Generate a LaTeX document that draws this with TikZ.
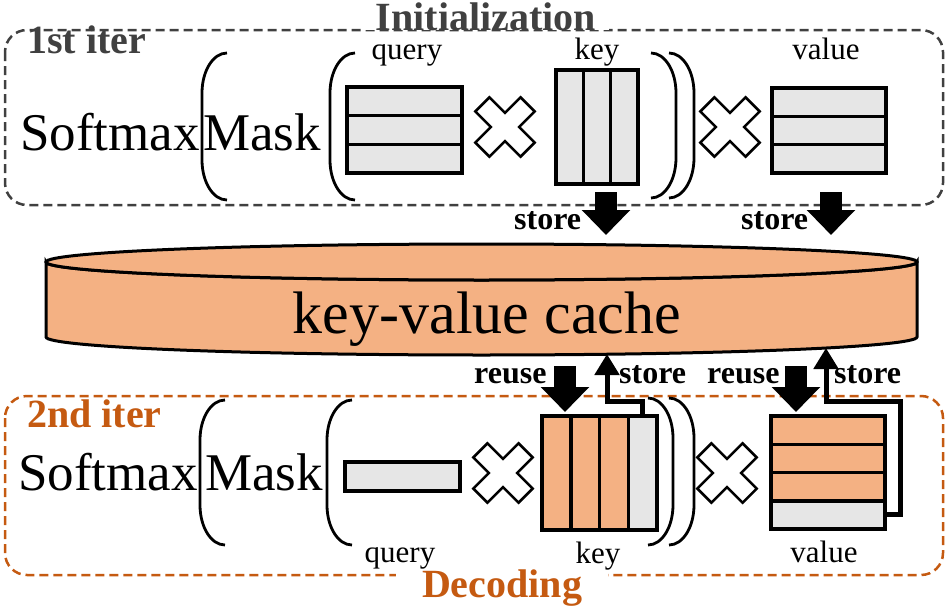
\documentclass[tikz,border=0pt]{standalone}
\usepackage{fontspec}
\setmainfont{Liberation Serif}
\usetikzlibrary{arrows.meta}

\definecolor{cacheorange}{HTML}{F4B183}
\definecolor{cellgray}{HTML}{E6E6E6}
\definecolor{decodeorange}{HTML}{C55A11}
\definecolor{initgray}{HTML}{404040}

\begin{document}
\begin{tikzpicture}[x=1pt, y=-1pt,
    bigword/.style = {font=\fontsize{53}{53}\selectfont, anchor=base west, inner sep=0pt},
    itertitle/.style = {font=\fontsize{40}{40}\selectfont\bfseries, anchor=base west, inner sep=0pt},
    boxtitle/.style = {font=\fontsize{40}{40}\selectfont\bfseries, anchor=base, fill=white, inner ysep=0pt},
    veclbl/.style = {font=\fontsize{31}{31}\selectfont, anchor=base, inner sep=0pt},
    oplbl/.style = {font=\fontsize{32}{32}\selectfont\bfseries, anchor=base west, inner sep=0pt},
    cell/.style = {draw, line width=3.5, fill=cellgray, inner sep=0pt, outer sep=0pt},
    paren/.style = {line width=2.8},
    timesx/.style = {draw, fill=white, line width=2.5, line join=miter},
    phasebox/.style = {line width=2.5, dash pattern=on 9pt off 5pt, rounded corners=22},
    fatarrow/.style = {line width=22, -{Triangle[width=47pt, length=25pt]}},
    thinarrow/.style = {line width=5, -{Triangle[width=24pt, length=21pt]}},
    cache/.style = {draw, fill=cacheorange, line width=3}]

    \useasboundingbox (0,0) rectangle (948,613);

    % phase boxes
    \draw[phasebox, initgray] (5,30) rectangle (943,205);
    \draw[phasebox, decodeorange] (5,396) rectangle (943,575);
    \node[boxtitle, text=initgray, inner xsep=13pt] (init) at (486,30) {Initialization};
    \node[boxtitle, text=decodeorange, inner xsep=26pt] (decode) at (502,597) {Decoding};
    \node[itertitle, text=initgray] (iterA) at (27,53) {1st iter};
    \node[itertitle, text=decodeorange] (iterB) at (27,427) {2nd iter};

    % key-value cache
    \filldraw[cache] (46,262) -- (46,337) arc[start angle=180, end angle=0, x radius=435.5, y radius=18]
        -- (917,262) arc[start angle=0, end angle=180, x radius=435.5, y radius=18] -- cycle;
    \filldraw[cache] (481.5,262) ellipse[x radius=435.5, y radius=18];
    \node[font=\fontsize{60}{60}\selectfont, anchor=base, inner sep=0pt] (cache) at (487,333) {key-value cache};

    % 1st iter
    \node[bigword] (smA) at (20,150) {Softmax};
    \node[bigword] (mkA) at (203,150) {Mask};
    \foreach \i in {0,1,2}
        \node[cell, minimum width=115, minimum height=28.67] (qA\i) at (404.5,{101.33+28.67*\i}) {};
    \foreach \i in {0,1,2}
        \node[cell, minimum width=27.33, minimum height=114] (kA\i) at ({569.67+27.33*\i},127) {};
    \foreach \i in {0,1,2}
        \node[cell, minimum width=114, minimum height=28.33] (vA\i) at (829,{102.17+28.33*\i}) {};
    \node[veclbl] (qlA) at (407,59) {query};
    \node[veclbl] (klA) at (597,59) {key};
    \node[veclbl] (vlA) at (826,59) {value};

    % 2nd iter
    \node[bigword] (smB) at (18,490) {Softmax};
    \node[bigword] (mkB) at (205,490) {Mask};
    \node[cell, minimum width=115, minimum height=29] (qB) at (402.5,476.5) {};
    \foreach \i/\c in {0/cacheorange, 1/cacheorange, 2/cacheorange, 3/cellgray}
        \node[cell, fill=\c, minimum width=28.75, minimum height=114] (kB\i) at ({556.375+28.75*\i},473) {};
    \foreach \i/\c in {0/cacheorange, 1/cacheorange, 2/cacheorange, 3/cellgray}
        \node[cell, fill=\c, minimum width=114, minimum height=28.25] (vB\i) at (828,{430.125+28.25*\i}) {};
    \node[veclbl] (qlB) at (400,562) {query};
    \node[veclbl] (klB) at (598,563) {key};
    \node[veclbl] (vlB) at (824,562) {value};

    % brackets
    \foreach \a/\t/\b in {202/53/200, 330/53/200, 200/400/545, 327/400/545}
        \draw[paren] ({\a+25},\t) .. controls ({\a+11},\t) and (\a,{\t+18}) .. (\a,{\t+40})
            -- (\a,{\b-40}) .. controls (\a,{\b-18}) and ({\a+11},\b) .. ({\a+25},\b);
    \foreach \c/\t/\b in {676/53/198, 694/53/198, 673/398/545, 694/398/545}
        \draw[paren] ({\c-25},\t) .. controls ({\c-11},\t) and (\c,{\t+18}) .. (\c,{\t+40})
            -- (\c,{\b-40}) .. controls (\c,{\b-18}) and ({\c-11},\b) .. ({\c-25},\b);

    % times signs
    \foreach \cx/\cy in {505/127, 730/127, 503/473, 727/473}
        \draw[timesx, shift={(\cx,\cy)}, rotate=45] (10,10) -- (10,32) -- (-10,32) -- (-10,10)
            -- (-32,10) -- (-32,-10) -- (-10,-10) -- (-10,-32) -- (10,-32) -- (10,-10)
            -- (32,-10) -- (32,10) -- cycle;

    % store / reuse
    \coordinate (kOut) at (606,192);
    \coordinate (kIn) at (606,235);
    \coordinate (vOut) at (831,192);
    \coordinate (vIn) at (831,235);
    \draw[fatarrow] (kOut) -- (kIn);
    \draw[fatarrow] (vOut) -- (vIn);
    \node[oplbl] (stA) at (514,229) {store};
    \node[oplbl] (stB) at (741,229) {store};

    \coordinate (kReuse) at (565,366);
    \coordinate (kHit) at (565,412);
    \coordinate (vReuse) at (796,366);
    \coordinate (vHit) at (796,412);
    \draw[fatarrow] (kReuse) -- (kHit);
    \draw[fatarrow] (vReuse) -- (vHit);
    \coordinate (kTurn) at (607,401);
    \coordinate (vTurn) at (900,401);
    \coordinate (cacheK) at (607,354);
    \coordinate (cacheV) at (826,348);
    \draw[thinarrow] (kB3.north) |- (kTurn) -- (cacheK);
    \draw[thinarrow] (vB3.east) -| (vTurn) -| (cacheV);
    \node[oplbl] (ruA) at (474,383) {reuse};
    \node[oplbl] (stC) at (619,383) {store};
    \node[oplbl] (ruB) at (707,383) {reuse};
    \node[oplbl] (stD) at (834,383) {store};
\end{tikzpicture}
\end{document}
